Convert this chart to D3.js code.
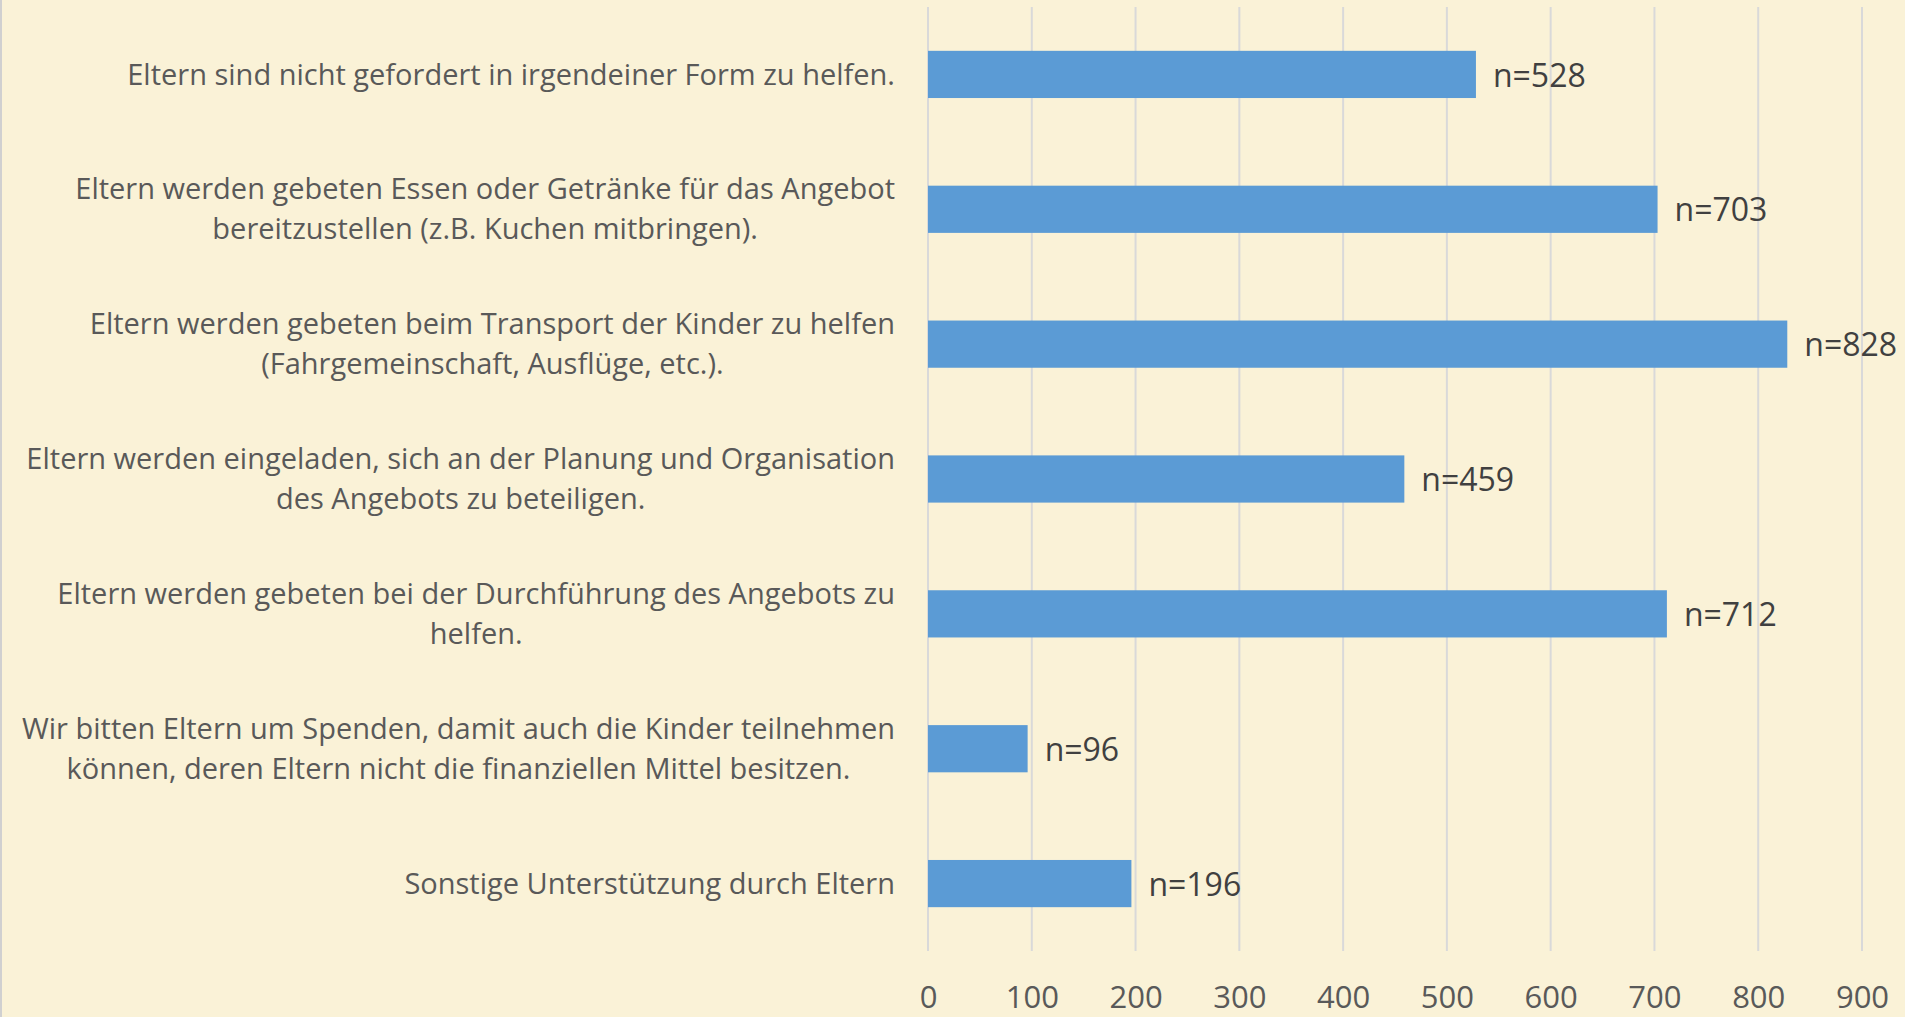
<!DOCTYPE html>
<html>
<head>
<meta charset="utf-8">
<script src="https://cdn.jsdelivr.net/npm/d3@7"></script>
<style>
  html, body { margin: 0; padding: 0; background: #FAF2D7; }
  svg { display: block; }
</style>
</head>
<body>
<svg id="chart" width="1905" height="1017"></svg>
<script>
// ---- data ----
const categories = [
  "Eltern sind nicht gefordert in irgendeiner Form zu helfen.",
  "Eltern werden gebeten Essen oder Getränke für das Angebot\nbereitzustellen (z.B. Kuchen mitbringen).",
  "Eltern werden gebeten beim Transport der Kinder zu helfen\n(Fahrgemeinschaft, Ausflüge, etc.).",
  "Eltern werden eingeladen, sich an der Planung und Organisation\ndes Angebots zu beteiligen.",
  "Eltern werden gebeten bei der Durchführung des Angebots zu\nhelfen.",
  "Wir bitten Eltern um Spenden, damit auch die Kinder teilnehmen\nkönnen, deren Eltern nicht die finanziellen Mittel besitzen.",
  "Sonstige Unterstützung durch Eltern"
];
const values = [528, 703, 828, 459, 712, 96, 196];
const valueLabels = ["n=528", "n=703", "n=828", "n=459", "n=712", "n=96", "n=196"];
const xTicks = [0, 100, 200, 300, 400, 500, 600, 700, 800, 900];

// ---- layout ----
const W = 1905, H = 1017;
const plotLeft = 928, plotRight = 1862, plotTop = 7, plotBottom = 951;
const labelRight = 895;
const font = "'Open Sans', sans-serif";

const svg = d3.select("#chart");

svg.append("rect").attr("x", 0).attr("y", 0).attr("width", W).attr("height", H)
  .attr("fill", "#FAF2D7");
svg.append("line").attr("x1", 1).attr("x2", 1).attr("y1", 0).attr("y2", H)
  .attr("stroke", "#D0D0D0").attr("stroke-width", 2);

const x = d3.scaleLinear().domain([0, 900]).range([plotLeft, plotRight]);
const y = d3.scaleBand().domain(categories).range([plotTop, plotBottom])
  .paddingInner(0.65).paddingOuter(0.325);

// gridlines
svg.append("g").selectAll("line").data(xTicks).join("line")
  .attr("x1", d => x(d)).attr("x2", d => x(d))
  .attr("y1", plotTop).attr("y2", plotBottom)
  .attr("stroke", "#D9D9D9").attr("stroke-width", 2);

// x axis tick labels
const xAxis = d3.axisBottom(x).tickValues(xTicks).tickSize(0).tickPadding(0);
const gx = svg.append("g").attr("transform", `translate(0,${plotBottom})`).call(xAxis);
gx.select(".domain").remove();
gx.selectAll("text")
  .attr("font-family", font).attr("font-size", 31).attr("fill", "#595959")
  .attr("y", 57).attr("dy", 0);

// bars
svg.append("g").selectAll("rect").data(values).join("rect")
  .attr("x", x(0))
  .attr("y", (d, i) => y(categories[i]))
  .attr("width", d => x(d) - x(0))
  .attr("height", y.bandwidth())
  .attr("fill", "#5B9BD5");

// value labels
svg.append("g").selectAll("text").data(values).join("text")
  .attr("x", d => x(d) + 17)
  .attr("y", (d, i) => y(categories[i]) + y.bandwidth() / 2 + 1)
  .attr("dy", "0.35em")
  .attr("font-family", font).attr("font-size", 32).attr("fill", "#404040")
  .text((d, i) => valueLabels[i]);

// category labels (multi-line, lines centered within block, block right-aligned)
const lineH = 40;
categories.forEach((c, i) => {
  const lines = c.split("\n");
  const cy = y(c) + y.bandwidth() / 2;
  const g = svg.append("g");
  const texts = lines.map((ln, j) => g.append("text")
    .attr("font-family", font).attr("font-size", 29).attr("fill", "#595959")
    .attr("text-anchor", "middle")
    .attr("y", cy + (j - (lines.length - 1) / 2) * lineH)
    .attr("dy", "0.35em")
    .text(ln));
  const maxW = d3.max(texts, t => t.node().getComputedTextLength());
  texts.forEach(t => t.attr("x", labelRight - maxW / 2));
});
</script>
</body>
</html>
